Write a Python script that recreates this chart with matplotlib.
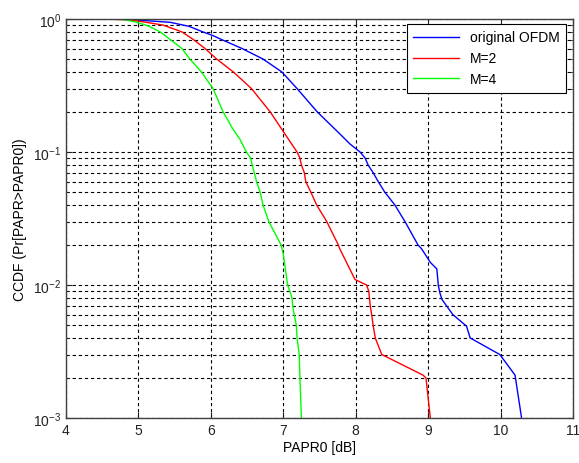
import numpy as np
import matplotlib.pyplot as plt
from matplotlib.ticker import LogLocator, NullFormatter

plt.rcParams['font.family'] = ['Liberation Sans', 'DejaVu Sans']
plt.rcParams['mathtext.fontset'] = 'custom'
plt.rcParams['mathtext.rm'] = 'Liberation Sans'
plt.rcParams['mathtext.it'] = 'Liberation Sans'

# CCDF curves (PAPR0 in dB, probability)
ofdm_x = [4.0, 4.75, 5.0, 5.44, 5.7, 5.89, 6.03, 6.15, 6.43, 6.72, 6.98, 7.19, 7.47, 7.78, 7.92,
          8.06, 8.13, 8.17, 8.24, 8.31, 8.40, 8.54, 8.68, 8.86, 8.91, 9.03, 9.12, 9.14, 9.16, 9.19,
          9.34, 9.53, 9.58, 9.99, 10.20, 10.29]
ofdm_y = [1.0, 0.998, 0.98, 0.944, 0.88, 0.8, 0.75, 0.7, 0.6, 0.5, 0.4, 0.3, 0.2, 0.137, 0.115,
          0.1, 0.09, 0.08, 0.07, 0.06, 0.05, 0.04, 0.03, 0.02, 0.0187, 0.0148, 0.0132, 0.01, 0.0088, 0.0078,
          0.006, 0.0049, 0.004, 0.003, 0.0021, 0.001]

m2_x = [4.0, 4.45, 4.8, 5.0, 5.34, 5.60, 5.76, 5.92, 6.08, 6.31, 6.56, 6.82, 7.07, 7.19, 7.23,
        7.25, 7.29, 7.31, 7.38, 7.46, 7.60, 7.76, 7.78, 7.99, 8.15, 8.18, 8.20, 8.22, 8.24, 8.27,
        8.36, 8.93, 8.97, 9.03]
m2_y = [1.0, 0.999, 0.99, 0.965, 0.9, 0.8, 0.7, 0.6, 0.5, 0.4, 0.3, 0.2, 0.125, 0.1, 0.09,
        0.08, 0.07, 0.06, 0.05, 0.04, 0.03, 0.02, 0.0187, 0.011, 0.01, 0.009, 0.007, 0.006, 0.005, 0.004,
        0.003, 0.0021, 0.002, 0.001]

m4_x = [4.0, 4.6, 4.8, 4.98, 5.15, 5.30, 5.44, 5.60, 5.71, 5.87, 6.03, 6.17, 6.30, 6.40, 6.49,
        6.55, 6.57, 6.60, 6.63, 6.68, 6.72, 6.80, 6.97, 7.00, 7.06, 7.09, 7.12, 7.13, 7.15, 7.18,
        7.19, 7.22, 7.23, 7.25]
m4_y = [1.0, 0.998, 0.99, 0.945, 0.88, 0.8, 0.7, 0.6, 0.5, 0.4, 0.3, 0.2, 0.15, 0.125, 0.1,
        0.09, 0.08, 0.07, 0.06, 0.05, 0.04, 0.03, 0.02, 0.017, 0.01, 0.009, 0.008, 0.007, 0.006, 0.005,
        0.004, 0.003, 0.002, 0.001]

labels = ["original OFDM", "M=2", "M=4"]
xticks = [4, 5, 6, 7, 8, 9, 10, 11]

fig = plt.figure(figsize=(5.79, 4.64), dpi=100)
ax = fig.add_axes([66/579, 1 - 419/464, 507/579, 399/464])

ax.semilogy(ofdm_x, ofdm_y, color='#0000ff', lw=1.0, label=labels[0])
ax.semilogy(m2_x, m2_y, color='#ff0000', lw=1.0, label=labels[1])
ax.semilogy(m4_x, m4_y, color='#00ff00', lw=1.0, label=labels[2])

ax.set_xlim(4, 11)
ax.set_ylim(1e-3, 1)
ax.set_xticks(xticks)
ax.yaxis.set_major_locator(LogLocator(base=10))
ax.yaxis.set_minor_locator(LogLocator(base=10, subs=np.arange(2, 10)))
ax.yaxis.set_minor_formatter(NullFormatter())

dash = (0, (3, 2.5))
ax.grid(True, which='major', axis='both', color='black', linestyle=dash, linewidth=0.8)
ax.grid(True, which='minor', axis='y', color='black', linestyle=dash, linewidth=0.8)

ax.tick_params(which='both', direction='in', top=True, right=True, labelsize=10, colors='#222222')
ax.tick_params(which='major', length=4)
ax.tick_params(which='minor', length=2)
for s in ax.spines.values():
    s.set_color('#404040')
    s.set_linewidth(1.0)

ax.set_xlabel("PAPR0 [dB]", fontsize=10, labelpad=2)
ax.set_ylabel("CCDF (Pr[PAPR>PAPR0])", fontsize=10, labelpad=4)

leg = ax.legend(loc='upper right', bbox_to_anchor=(0.986, 0.987), borderaxespad=0,
                fancybox=False, framealpha=1, edgecolor='black', fontsize=10,
                handlelength=3.3, borderpad=0.45, labelspacing=0.5)
leg.get_frame().set_linewidth(0.8)

fig.savefig("out.png", dpi=100)
